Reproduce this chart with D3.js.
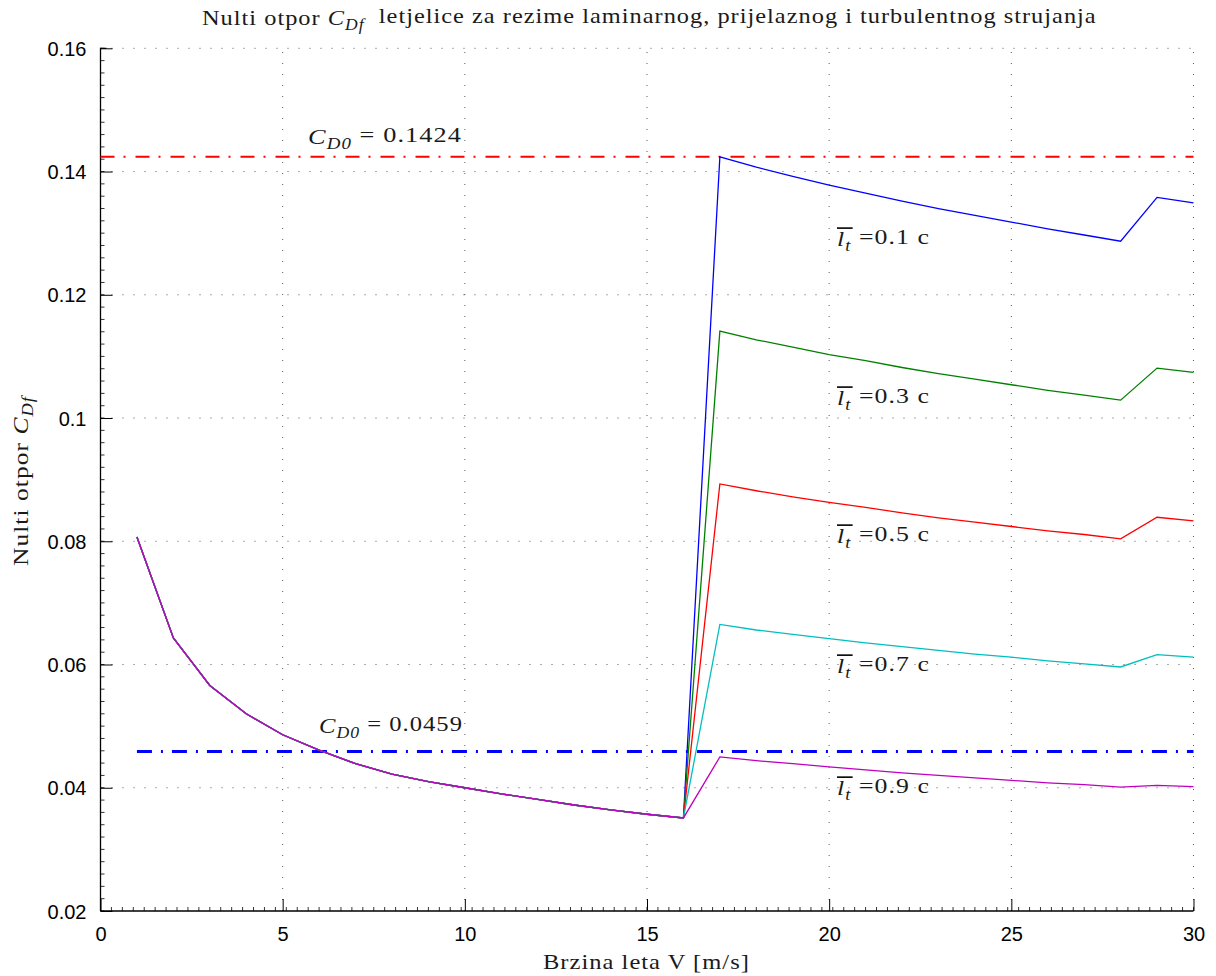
<!DOCTYPE html>
<html><head><meta charset="utf-8">
<script src="https://cdn.jsdelivr.net/npm/d3@7"></script>
<style>
body{margin:0;background:#fff;}
svg{display:block;}
</style></head>
<body>
<svg id="chart" width="1216" height="976"></svg>
<script>
// ---- data ----
const speedsLaminar = [1,2,3,4,5,6,7,8,9,10,11,12,13,14,15,16];
const cdfLaminar = [0.0807,0.0643,0.0566,0.0520,0.0486,0.0461,0.0439,0.0422,0.0410,0.0400,0.0390,0.0381,0.0372,0.0364,0.0357,0.0351];
const speedsTurb = [17,18,19,20,21,22,23,24,25,26,27,28,29,30];
const cdfLt01 = [0.1424,0.1407,0.1392,0.1378,0.1365,0.1352,0.1340,0.1329,0.1318,0.1307,0.1297,0.1287,0.1358,0.1349];
const cdfLt03 = [0.1141,0.1127,0.1115,0.1103,0.1093,0.1082,0.1072,0.1063,0.1054,0.1045,0.1037,0.1029,0.1081,0.1074];
const cdfLt05 = [0.0893,0.0882,0.0872,0.0863,0.0855,0.0846,0.0838,0.0831,0.0824,0.0817,0.0811,0.0804,0.0839,0.0833];
const cdfLt07 = [0.0665,0.0656,0.0649,0.0642,0.0635,0.0629,0.0623,0.0617,0.0612,0.0606,0.0601,0.0596,0.0616,0.0612];
const cdfLt09 = [0.0450,0.0444,0.0439,0.0434,0.0429,0.0424,0.0420,0.0416,0.0412,0.0408,0.0405,0.0401,0.0404,0.0402];
const ltLabels = ["0.1","0.3","0.5","0.7","0.9"];
const ltColors = ["#0000ff","#008000","#ff0000","#00bfbf","#bf00bf"];
const labelY = [0.1279,0.1021,0.0797,0.0586,0.0388];
const cd0High = 0.1424, cd0Low = 0.0459;
const xTicks = [0,5,10,15,20,25,30];
const yTicks = [0.02,0.04,0.06,0.08,0.1,0.12,0.14,0.16];
const yTickLabels = ["0.02","0.04","0.06","0.08","0.1","0.12","0.14","0.16"];

// ---- layout ----
const svg = d3.select("#chart");
const L = 100.5, R = 1193.5, T = 48.3, B = 911;
const x = d3.scaleLinear().domain([0,30]).range([L,R]);
const y = d3.scaleLinear().domain([0.02,0.16]).range([B,T]);
const serif = "'Liberation Serif','DejaVu Serif',serif";
const sans = "'Liberation Sans',Arial,sans-serif";
const FS = 22;

// grid
const g = svg.append("g");
g.selectAll("line.gx").data(xTicks.slice(1)).enter().append("line")
  .attr("x1",d=>x(d)).attr("x2",d=>x(d)).attr("y1",B).attr("y2",T)
  .attr("stroke","#000").attr("stroke-width",1).attr("stroke-dasharray","1,10").attr("opacity",0.65);
g.selectAll("line.gy").data(yTicks.slice(1)).enter().append("line")
  .attr("x1",L).attr("x2",R).attr("y1",d=>y(d)).attr("y2",d=>y(d))
  .attr("stroke","#000").attr("stroke-width",1).attr("stroke-dasharray","1,10").attr("opacity",0.65);

// axes
const xAxis = d3.axisBottom(x).tickValues(xTicks).tickSize(-12).tickPadding(16).tickFormat(d3.format("d"));
const yAxis = d3.axisLeft(y).tickValues(yTicks).tickSize(-12).tickPadding(16).tickFormat((d,i)=>yTickLabels[i]);
const gx = svg.append("g").attr("transform",`translate(0,${B})`).call(xAxis);
const gy = svg.append("g").attr("transform",`translate(${L},0)`).call(yAxis);
[gx,gy].forEach(a=>{
  a.select(".domain").attr("stroke","#000").attr("stroke-width",1.3);
  a.selectAll(".tick line").attr("stroke","#000").attr("stroke-width",1);
  a.selectAll(".tick text").attr("font-family",sans).attr("font-size",20).attr("fill","#000");
});
gx.selectAll(".tick text").attr("dy","0.71em");
gy.selectAll(".tick text").attr("dx","2").attr("dy","0.36em");
gy.select(".domain").attr("d",`M0,${B}V${T}H6`);
gx.select(".domain").attr("d",`M${L},0H${R}`);
// minor ticks
const xMinor = d3.range(0,30.01,0.3);
svg.append("g").selectAll("line").data(xMinor).enter().append("line")
  .attr("x1",d=>x(d)).attr("x2",d=>x(d)).attr("y1",B).attr("y2",B-4)
  .attr("stroke","#000").attr("stroke-width",0.8);
const yMinor = d3.range(0.02,0.1601,0.002);
svg.append("g").selectAll("line").data(yMinor).enter().append("line")
  .attr("x1",L).attr("x2",L+4).attr("y1",d=>y(d)).attr("y2",d=>y(d))
  .attr("stroke","#000").attr("stroke-width",0.8);

// reference lines
svg.append("line").attr("x1",x(0)).attr("x2",x(30)).attr("y1",y(cd0High)).attr("y2",y(cd0High))
  .attr("stroke","#ff0000").attr("stroke-width",2).attr("stroke-dasharray","14,9,2,10");
svg.append("line").attr("x1",x(1)).attr("x2",x(30)).attr("y1",y(cd0Low)).attr("y2",y(cd0Low))
  .attr("stroke","#0000ff").attr("stroke-width",3).attr("stroke-dasharray","15,9,2,9");

// curves
const allTurb = [cdfLt01,cdfLt03,cdfLt05,cdfLt07,cdfLt09];
const line = d3.line().x(d=>x(d[0])).y(d=>y(d[1]));
allTurb.forEach((ser,i)=>{
  const pts = speedsLaminar.map((v,j)=>[v,cdfLaminar[j]]).concat(speedsTurb.map((v,j)=>[v,ser[j]]));
  svg.append("path").attr("d",line(pts)).attr("fill","none")
    .attr("stroke",ltColors[i]).attr("stroke-width",1.3);
});

// text helpers
function mathC(t, sub){
  t.append("tspan").attr("font-style","italic").text("C");
  t.append("tspan").attr("font-style","italic").attr("font-size","0.72em").attr("dy","0.3em").text(sub);
}
// group at (x0,y0) with optional rotation; content is fitted to target width
function label(x0, y0, width, rot, build){
  const outer = svg.append("g").attr("transform",`translate(${x0},${y0})` + (rot?` rotate(${rot})`:""));
  const inner = outer.append("g");
  const t = inner.append("text").attr("x",0).attr("y",0).attr("font-family",serif)
    .attr("font-size",FS).attr("letter-spacing","0.9px").attr("fill","#1a1a1a");
  build(t, inner);
  const w = t.node().getBBox().width;
  inner.attr("transform",`scale(${width/w},1)`);
  return t;
}
// title
label(202, 25, 895, 0, t=>{
  t.append("tspan").text("Nulti otpor ");
  mathC(t,"Df");
  t.append("tspan").attr("dy","-0.3em").text("\u00a0 letjelice za rezime laminarnog, prijelaznog i turbulentnog strujanja");
});
// x label
label(543, 969, 207, 0, t=>t.text("Brzina leta V [m/s]"));
// y label
label(28, 566, 172, -90, t=>{ t.append("tspan").text("Nulti otpor "); mathC(t,"Df"); });

// CD0 labels
label(308, y(0.1445), 154, 0, t=>{ mathC(t,"D0"); t.append("tspan").attr("dy","-0.3em").text(" = " + cd0High.toFixed(4)); });
label(319, y(0.0489), 144, 0, t=>{ mathC(t,"D0"); t.append("tspan").attr("dy","-0.3em").text(" = " + cd0Low.toFixed(4)); });

// lt labels
ltLabels.forEach((lab,i)=>{
  label(837, y(labelY[i]), 93, 0, (t, inner)=>{
    t.append("tspan").attr("font-style","italic").text("l");
    t.append("tspan").attr("font-style","italic").attr("font-size","0.72em").attr("dy","0.3em").text("t");
    t.append("tspan").attr("dy","-0.3em").text(" =" + lab + " c");
    const w = t.node().getSubStringLength(0,2);
    inner.append("line").attr("x1",0).attr("x2",w+1)
      .attr("y1",-18).attr("y2",-18).attr("stroke","#000").attr("stroke-width",1.6);
  });
});
</script>
</body></html>
